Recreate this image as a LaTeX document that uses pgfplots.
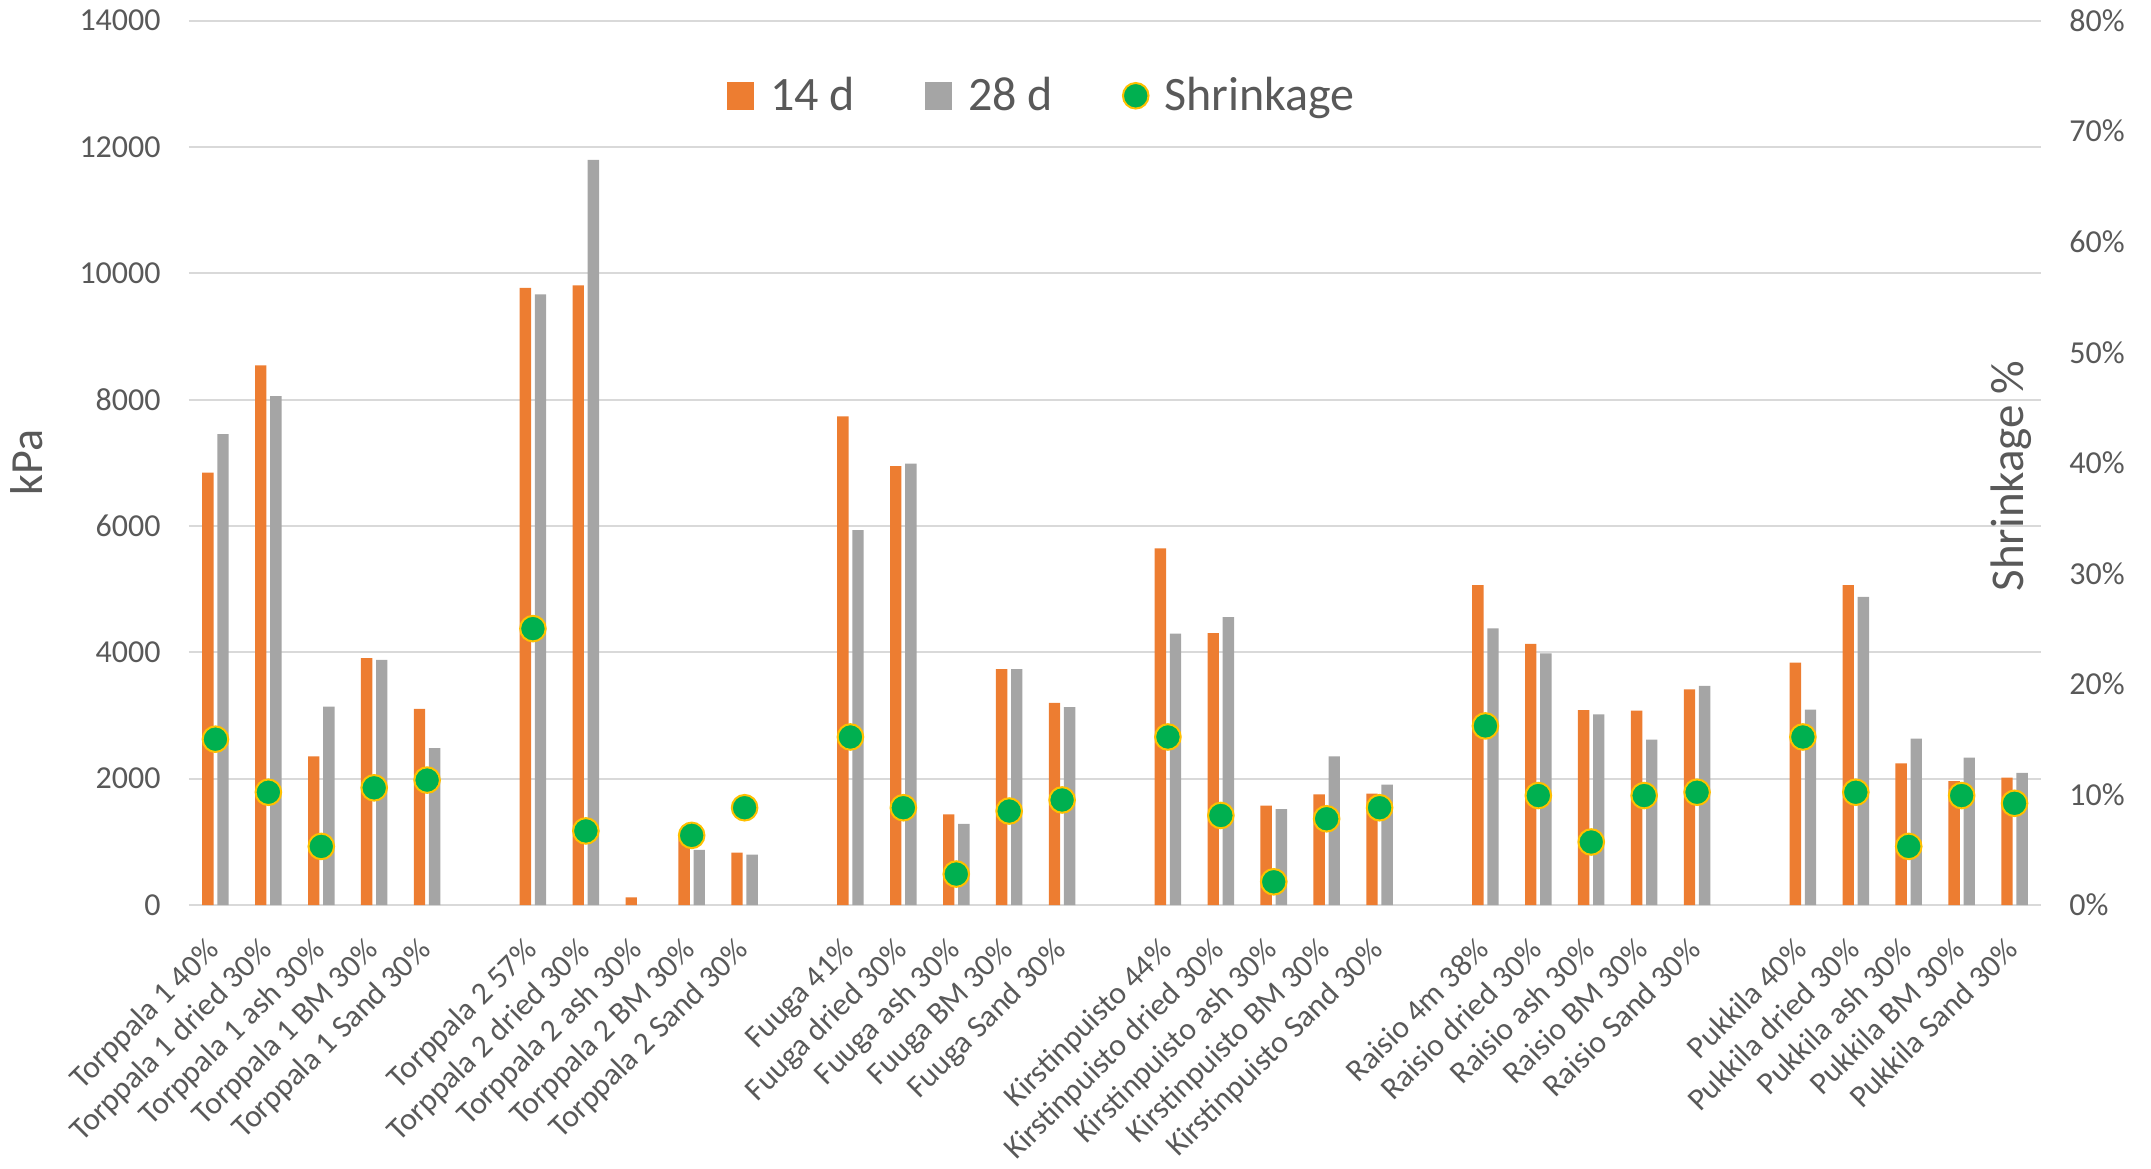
\documentclass[border=0pt]{standalone}
\usepackage{fontspec}
\setmainfont{Carlito}
\usepackage{pgfplots}
\pgfplotsset{compat=1.18}
\usepackage{pgfplotstable}
\definecolor{orng}{HTML}{ED7D31}
\definecolor{gry}{HTML}{A5A5A5}
\definecolor{grn}{HTML}{00B050}
\definecolor{yel}{HTML}{FFC000}
\definecolor{txt}{HTML}{595959}
\definecolor{gridc}{HTML}{D9D9D9}

\pgfplotstableread{
x a b s
0 6845 7455 15.0
1 8542 8055 10.2
2 2354 3141 5.3
3 3910 3882 10.6
4 3104 2485 11.3
6 9771 9668 25.0
7 9808 11796 6.7
8 122 nan nan
9 1100 872 6.3
10 828 797 8.8
12 7736 5936 15.2
13 6948 6986 8.8
14 1435 1285 2.8
15 3732 3732 8.5
16 3198 3132 9.5
18 5645 4295 15.2
19 4304 4557 8.1
20 1575 1519 2.1
21 1753 2354 7.8
22 1763 1904 8.8
24 5064 4379 16.2
25 4135 3985 9.9
26 3085 3019 5.7
27 3076 2616 9.9
28 3413 3469 10.2
30 3835 3094 15.2
31 5064 4876 10.2
32 2241 2635 5.3
33 1960 2335 9.9
34 2016 2091 9.2
}\datatable

\begin{document}
\begin{tikzpicture}
\pgfplotsset{
  base/.style={
    scale only axis, width=926pt, height=442.2pt,
    xmin=-0.5, xmax=34.5,
    major tick length=0pt,
    tick style={draw=none},
    xmajorgrids=false,
    scaled y ticks=false,
    /pgf/number format/assume math mode=true,
    /pgf/number format/1000 sep={},
    ticklabel style={font=\fontsize{16}{18}\selectfont, text=txt},
  }
}
\begin{axis}[base,
  ymin=0, ymax=14000, ytick={0,2000,...,14000},
  ymajorgrids=true, grid style={draw=gridc, line width=1pt},
  axis x line*=bottom, axis y line*=left,
  x axis line style={draw=gridc, line width=1pt, -},
  y axis line style={draw=none},
  yticklabel style={inner sep=0pt, anchor=east, xshift=-14pt},
  xtick={0,1,2,3,4,6,7,8,9,10,12,13,14,15,16,18,19,20,21,22,24,25,26,27,28,30,31,32,33,34},
  xticklabels={Torppala 1 40\%, Torppala 1 dried 30\%, Torppala 1 ash 30\%, Torppala 1 BM 30\%, Torppala 1 Sand 30\%,
    Torppala 2 57\%, Torppala 2 dried 30\%, Torppala 2 ash 30\%, Torppala 2 BM 30\%, Torppala 2 Sand 30\%,
    Fuuga 41\%, Fuuga dried 30\%, Fuuga ash 30\%, Fuuga BM 30\%, Fuuga Sand 30\%,
    Kirstinpuisto 44\%, Kirstinpuisto dried 30\%, Kirstinpuisto ash 30\%, Kirstinpuisto BM 30\%, Kirstinpuisto Sand 30\%,
    Raisio 4m 38\%, Raisio dried 30\%, Raisio ash 30\%, Raisio BM 30\%, Raisio Sand 30\%,
    Pukkila 40\%, Pukkila dried 30\%, Pukkila ash 30\%, Pukkila BM 30\%, Pukkila Sand 30\%},
  xticklabel style={font=\fontsize{15.8}{18}\selectfont, inner sep=0pt, anchor=north east, rotate=45, xshift=-14.5pt, yshift=-7.2pt},
  ylabel={kPa},
  ylabel style={at={(axis description cs:-0.0875,0.5)}, anchor=center, rotate=0, font=\fontsize{23}{25}\selectfont, text=txt},
]
\addplot[ybar, bar width=0.215, bar shift=-0.143, fill=orng, draw=none] table[x=x, y=a] {\datatable};
\addplot[ybar, bar width=0.215, bar shift=0.143, fill=gry, draw=none] table[x=x, y=b] {\datatable};
\end{axis}
\begin{axis}[base,
  ymin=0, ymax=80, ytick={0,10,...,80},
  ymajorgrids=false,
  axis y line*=right, axis x line=none,
  y axis line style={draw=none},
  yticklabel={\pgfmathprintnumber{\tick}\%},
  yticklabel style={inner sep=0pt, anchor=west, xshift=14pt},
  ylabel={Shrinkage \%},
  ylabel style={at={(axis description cs:0.984,0.485)}, anchor=center, rotate=0, font=\fontsize{23.5}{25}\selectfont, text=txt},
  legend style={draw=none, fill=none, at={(axis description cs:0.461,0.915)}, anchor=center,
    font=\fontsize{24}{26}\selectfont, text=txt, legend columns=3,
    /tikz/every odd column/.append style={column sep=6pt},
    /tikz/every even column/.append style={column sep=33pt}},
  legend cell align=left,
]
\addlegendimage{legend image code/.code={\fill[orng] (0pt,-6.6pt) rectangle (13.3pt,6.6pt);}}
\addlegendentry{14 d}
\addlegendimage{legend image code/.code={\fill[gry] (0pt,-6.6pt) rectangle (13.3pt,6.6pt);}}
\addlegendentry{28 d}
\addplot[only marks, mark=*, mark size=6.4pt, mark options={fill=grn, draw=yel, line width=1pt}] table[x=x, y=s] {\datatable};
\addlegendentry{Shrinkage}
\end{axis}
\pgfresetboundingbox
\useasboundingbox (-94.5pt,-131.5pt) rectangle (981pt,452.5pt);
\end{tikzpicture}
\end{document}
